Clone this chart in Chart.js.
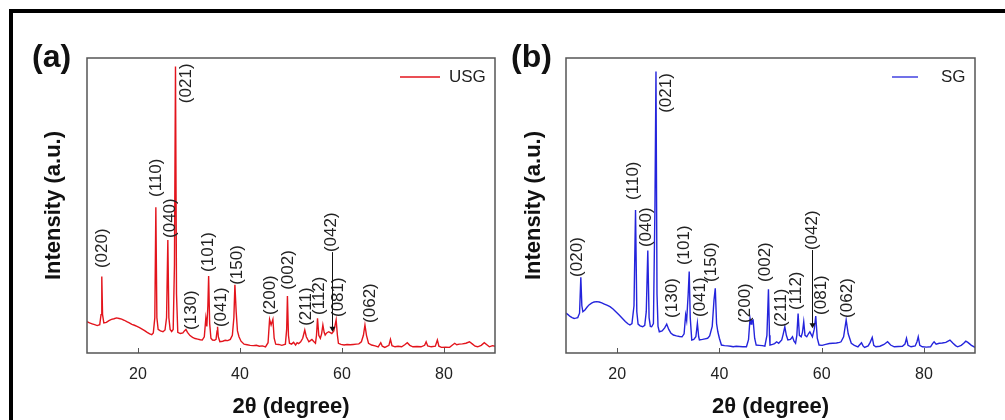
<!DOCTYPE html>
<html>
<head>
<meta charset="utf-8">
<script src="https://cdn.jsdelivr.net/npm/chart.js@4.4.1/dist/chart.umd.min.js"></script>
<style>
  html, body { margin: 0; padding: 0; background: #fff; }
  #wrap { position: relative; width: 1005px; height: 420px; overflow: hidden; }
  canvas { position: absolute; top: 0; }
  #chartA { left: 0; }
  #chartB { left: 502px; }
  #frame { position: absolute; left: 9px; top: 9px; width: 1100px; height: 500px;
           border-top: 4px solid #000; border-left: 4px solid #000; pointer-events: none; }
</style>
</head>
<body>
<div id="wrap">
  <canvas id="chartA" width="502" height="420"></canvas>
  <canvas id="chartB" width="503" height="420"></canvas>
  <div id="frame"></div>
</div>
<script>
// x axis ticks
const xTicks = [20, 40, 60, 80];

// (a) USG pattern, 2theta / intensity (a.u.)
const usgAngle = [10.0, 10.5, 11.0, 11.5, 12.0, 12.5, 12.75, 12.9, 13.05, 13.3, 13.8, 14.3, 14.8, 15.3, 15.8, 16.3, 16.8, 17.3, 17.8, 18.3,
  18.8, 19.3, 19.8, 20.3, 20.8, 21.3, 21.8, 22.3, 22.7, 23.0, 23.3, 23.5, 23.7, 23.95, 24.4, 24.9, 25.3, 25.6, 25.85, 26.05,
  26.3, 26.6, 26.9, 27.15, 27.35, 27.55, 27.8, 28.3, 28.8, 29.1, 29.4, 29.7, 30.2, 30.7, 31.2, 31.7, 32.2, 32.6, 33.0, 33.3,
  33.5, 33.7, 33.85, 34.05, 34.3, 34.6, 35.0, 35.3, 35.5, 35.6, 35.75, 36.05, 36.6, 37.1, 37.6, 38.1, 38.5, 38.8, 39.0, 39.25,
  39.5, 39.8, 40.2, 40.8, 41.4, 42.0, 42.6, 43.2, 43.8, 44.4, 45.0, 45.5, 45.8, 46.1, 46.45, 46.7, 47.0, 47.6, 48.2, 48.9,
  49.15, 49.3, 49.5, 49.7, 50.1, 50.5, 50.9, 51.2, 51.5, 51.9, 52.3, 52.7, 53.0, 53.5, 53.8, 54.1, 54.5, 54.8, 55.0, 55.2,
  55.45, 55.75, 56.0, 56.25, 56.5, 56.7, 57.0, 57.4, 57.7, 58.0, 58.4, 58.65, 58.85, 59.1, 59.3, 59.8, 60.4, 61.0, 61.6, 62.2,
  62.8, 63.3, 63.8, 64.2, 64.5, 64.8, 65.2, 65.8, 66.5, 67.1, 67.6, 67.9, 68.4, 69.2, 69.5, 69.8, 70.4, 71.0, 71.7, 72.3,
  72.8, 73.3, 73.9, 74.7, 75.5, 76.2, 76.5, 76.8, 77.5, 78.3, 78.7, 79.0, 79.5, 80.3, 81.1, 81.6, 82.1, 82.5, 83.0, 83.6,
  84.3, 85.0, 85.6, 86.1, 86.6, 87.3, 87.9, 88.4, 88.9, 89.5, 90.0];
const usgIntensity = [10.6, 10.2, 9.9, 9.6, 9.3, 9.6, 13.0, 25.9, 13.0, 10.2, 10.4, 11.0, 11.4, 11.6, 11.9, 11.7, 11.5, 11.1, 10.6, 10.2,
  9.7, 9.4, 9.0, 8.6, 8.1, 7.6, 7.0, 6.5, 6.2, 6.8, 12.0, 49.4, 12.0, 8.0, 7.5, 7.2, 7.8, 12.0, 38.3, 12.0,
  8.0, 7.3, 8.0, 30.0, 97.1, 20.0, 7.0, 6.6, 6.8, 7.5, 8.0, 7.0, 5.9, 5.3, 4.9, 4.7, 4.5, 4.4, 5.5, 11.8,
  9.0, 16.0, 26.1, 10.0, 5.0, 4.4, 4.3, 4.6, 7.5, 8.9, 5.5, 3.8, 4.0, 4.3, 4.2, 4.6, 6.0, 12.0, 23.1, 14.0,
  7.5, 5.5, 4.0, 3.0, 2.8, 2.6, 2.5, 2.6, 2.3, 2.4, 2.1, 3.5, 11.4, 9.5, 11.4, 5.0, 3.0, 2.9, 2.6, 3.0,
  8.0, 19.3, 6.0, 3.3, 3.0, 3.6, 2.7, 3.5, 3.2, 3.8, 5.0, 7.8, 5.5, 3.8, 4.2, 4.6, 3.8, 3.3, 6.0, 11.8,
  6.0, 5.0, 6.5, 9.5, 7.0, 6.1, 6.8, 7.2, 6.9, 6.6, 7.5, 9.5, 11.2, 6.0, 3.3, 2.9, 2.7, 2.9, 2.8, 2.9,
  3.0, 3.1, 3.8, 6.0, 9.5, 6.0, 3.3, 2.7, 2.4, 2.1, 3.5, 2.3, 1.9, 2.6, 4.6, 2.5, 2.1, 2.3, 2.1, 2.8,
  3.5, 2.6, 2.1, 2.2, 2.1, 2.6, 3.8, 2.4, 2.1, 2.3, 4.4, 2.3, 1.9, 2.0, 1.9, 2.6, 3.3, 2.8, 3.0, 3.1,
  3.3, 3.8, 3.0, 2.3, 2.1, 2.6, 3.5, 2.8, 2.1, 2.5, 2.3];

// (b) SG pattern
const sgAngle = [10.0, 10.4, 10.8, 11.2, 11.6, 11.9, 12.3, 12.65, 12.9, 13.1, 13.3, 13.7, 14.1, 14.5, 15.0, 15.5, 16.0, 16.5, 17.0, 17.5,
  18.0, 18.6, 19.2, 19.8, 20.4, 21.0, 21.6, 22.1, 22.5, 22.9, 23.3, 23.6, 23.85, 24.1, 24.5, 25.0, 25.4, 25.7, 26.0, 26.25,
  26.5, 26.75, 27.1, 27.4, 27.6, 27.8, 28.0, 28.25, 28.8, 29.3, 29.7, 30.1, 30.5, 31.0, 31.6, 32.2, 32.7, 33.1, 33.4, 33.6,
  33.9, 34.1, 34.3, 34.6, 35.0, 35.4, 35.7, 35.95, 36.1, 36.7, 37.2, 37.7, 38.1, 38.6, 38.95, 39.2, 39.45, 39.7, 40.0, 40.4,
  41.0, 41.6, 42.2, 42.7, 43.3, 43.9, 44.6, 45.3, 45.7, 46.0, 46.2, 46.35, 46.6, 46.9, 47.2, 47.8, 48.4, 48.9, 49.3, 49.6,
  49.8, 49.9, 50.4, 50.8, 51.2, 51.6, 52.2, 52.5, 52.8, 53.1, 53.4, 53.9, 54.3, 54.6, 54.9, 55.15, 55.4, 55.65, 56.0, 56.25,
  56.5, 56.75, 57.1, 57.45, 57.7, 57.95, 58.2, 58.55, 58.85, 59.15, 59.5, 60.1, 60.8, 61.5, 62.2, 62.9, 63.5, 63.8, 64.3, 64.8,
  65.2, 65.8, 66.4, 67.1, 67.8, 68.1, 68.4, 69.1, 69.5, 69.9, 70.2, 70.6, 71.4, 72.2, 72.9, 73.5, 74.2, 75.0, 75.8, 76.3,
  76.6, 76.9, 77.5, 78.3, 78.65, 78.9, 79.2, 79.7, 80.5, 81.3, 81.7, 82.0, 82.4, 83.0, 83.6, 84.3, 85.1, 85.7, 86.2, 86.6,
  87.3, 87.8, 88.2, 88.6, 89.3, 90.0];
const sgIntensity = [13.5, 13.0, 12.4, 12.0, 11.7, 11.8, 12.0, 13.5, 25.7, 16.0, 14.0, 14.6, 15.5, 16.3, 16.9, 17.3, 17.4, 17.3, 17.0, 16.6,
  16.2, 15.7, 14.9, 13.9, 12.9, 11.8, 10.7, 9.9, 9.5, 10.0, 16.0, 48.5, 14.0, 9.8, 9.2, 8.9, 9.4, 14.0, 34.7, 12.0,
  9.0, 8.9, 10.0, 50.0, 95.4, 20.0, 9.0, 7.2, 7.5, 8.5, 9.8, 8.0, 6.8, 6.1, 5.8, 5.6, 5.5, 6.5, 12.9, 11.0,
  20.0, 27.6, 12.0, 4.4, 4.6, 5.5, 10.1, 5.5, 4.4, 4.6, 4.8, 5.0, 5.8, 9.0, 18.0, 21.9, 10.0, 7.2, 5.0, 2.7,
  2.5, 2.4, 2.3, 2.1, 2.3, 2.2, 2.1, 2.1, 4.5, 11.8, 9.8, 11.0, 11.2, 5.0, 2.7, 2.6, 2.5, 2.3, 6.0, 21.6,
  6.0, 2.7, 2.9, 3.2, 3.8, 3.3, 4.4, 6.5, 8.9, 6.0, 4.4, 4.6, 5.5, 4.0, 3.3, 6.0, 13.4, 6.0, 5.5, 7.0,
  10.6, 6.0, 5.5, 6.6, 7.2, 6.3, 5.5, 8.0, 12.5, 5.0, 2.7, 2.6, 2.9, 3.2, 3.3, 3.4, 3.6, 3.8, 5.5, 11.2,
  6.5, 3.3, 2.6, 2.1, 3.5, 2.4, 1.9, 2.4, 3.6, 5.3, 2.6, 2.1, 2.3, 2.9, 3.8, 2.7, 2.1, 2.2, 2.3, 3.0,
  5.0, 2.6, 2.1, 2.4, 3.8, 5.5, 2.6, 2.1, 2.0, 2.1, 3.2, 3.8, 3.0, 3.3, 3.4, 3.6, 4.4, 3.3, 2.5, 2.1,
  2.6, 3.3, 4.0, 3.6, 2.6, 1.9];

// Miller index labels and where their text starts (2theta, intensity)
const hklLabels = ['(020)', '(110)', '(040)', '(021)', '(130)', '(101)', '(041)', '(150)',
  '(200)', '(002)', '(211)', '(112)', '(042)', '(081)', '(062)'];
const usgLabelAngle = [12.94, 23.67, 26.27, 29.55, 30.4, 33.8, 36.3, 39.5, 45.9, 49.5, 53.1, 55.5, 58.0, 59.3, 65.6];
const usgLabelBase = [28.8, 52.9, 39.0, 84.7, 7.8, 27.5, 8.8, 23.1, 12.9, 21.4, 9.2, 12.9, 34.2, 12.2, 10.2];
const sgLabelAngle = [12.2, 23.2, 25.8, 29.6, 30.7, 33.1, 36.2, 38.5, 45.0, 48.9, 52.2, 55.0, 58.1, 60.0, 65.0];
const sgLabelBase = [25.8, 51.9, 35.9, 81.4, 11.9, 29.8, 12.2, 24.1, 10.2, 24.1, 8.8, 14.6, 34.9, 12.9, 11.9];
// (042) leader arrow tip
const usgArrowTip = 7.2;
const sgArrowTip = 8.4;

const FONT = "'Liberation Sans', Arial, sans-serif";
Chart.defaults.font.family = FONT;

// frame, inner ticks, peak labels, legend, panel letter
const decor = {
  id: 'decor',
  afterDraw(chart, args, o) {
    const {ctx, chartArea: a, scales: {x, y}} = chart;
    ctx.save();
    ctx.strokeStyle = '#555';
    ctx.lineWidth = 1.5;
    ctx.strokeRect(a.left, a.top, a.right - a.left, a.bottom - a.top);

    ctx.lineWidth = 1;
    x.ticks.forEach(t => {
      const px = Math.round(x.getPixelForValue(t.value)) + 0.5;
      ctx.beginPath();
      ctx.moveTo(px, a.bottom);
      ctx.lineTo(px, a.bottom - 5);
      ctx.stroke();
    });

    ctx.fillStyle = '#222';
    ctx.font = '17px ' + FONT;
    ctx.textBaseline = 'middle';
    ctx.textAlign = 'left';
    hklLabels.forEach((s, i) => {
      const px = x.getPixelForValue(o.angles[i]);
      const py = y.getPixelForValue(o.bases[i]);
      ctx.save();
      ctx.translate(px, py);
      ctx.rotate(-Math.PI / 2);
      ctx.fillText(s, 0, 0);
      ctx.restore();
    });

    // leader line for (042)
    const k = hklLabels.indexOf('(042)');
    const ax = Math.round(x.getPixelForValue(o.angles[k])) + 0.5;
    const ay0 = y.getPixelForValue(o.bases[k]);
    const ay1 = y.getPixelForValue(o.arrowTip);
    ctx.strokeStyle = '#111';
    ctx.beginPath();
    ctx.moveTo(ax, ay0);
    ctx.lineTo(ax, ay1 - 4);
    ctx.stroke();
    ctx.fillStyle = '#111';
    ctx.beginPath();
    ctx.moveTo(ax - 3, ay1 - 5);
    ctx.lineTo(ax + 3, ay1 - 5);
    ctx.lineTo(ax, ay1);
    ctx.closePath();
    ctx.fill();

    // legend
    const ds = chart.data.datasets[0];
    const ly = a.top + 19;
    ctx.strokeStyle = ds.borderColor;
    ctx.lineWidth = 1.3;
    ctx.beginPath();
    ctx.moveTo(a.right - o.legend[0], ly);
    ctx.lineTo(a.right - o.legend[1], ly);
    ctx.stroke();
    ctx.fillStyle = '#222';
    ctx.fillText(ds.label, a.right - o.legend[2], ly);

    // panel letter
    ctx.font = 'bold 32px ' + FONT;
    ctx.fillStyle = '#111';
    ctx.textBaseline = 'alphabetic';
    ctx.fillText(o.panel, a.left - 55, 67);
    ctx.restore();
  }
};

function makeChart(id, label, color, angles, values, padLeft, yWidth, padRight, decorOpts) {
  const points = angles.map((v, i) => ({x: v, y: values[i]}));
  return new Chart(document.getElementById(id), {
    type: 'line',
    data: {
      datasets: [{
        label: label,
        data: points,
        borderColor: color,
        borderWidth: 1.4,
        pointRadius: 0,
        tension: 0,
        fill: false
      }]
    },
    options: {
      responsive: false,
      animation: false,
      devicePixelRatio: 1,
      layout: { padding: { left: padLeft, top: 58, right: padRight, bottom: 0 } },
      plugins: {
        legend: { display: false },
        tooltip: { enabled: false },
        decor: decorOpts
      },
      scales: {
        x: {
          type: 'linear',
          min: 10,
          max: 90,
          afterBuildTicks: s => { s.ticks = xTicks.map(v => ({value: v})); },
          afterFit: s => { s.height = 67; },
          grid: { display: false, drawTicks: false },
          border: { display: false },
          ticks: { color: '#222', font: { size: 16 }, padding: 12, maxRotation: 0, autoSkip: false },
          title: { display: true, text: '2θ (degree)', color: '#111', padding: 0,
                   font: { size: 22, weight: 'bold' } }
        },
        y: {
          min: 0,
          max: 100,
          afterFit: s => { s.width = yWidth; },
          grid: { display: false, drawTicks: false },
          border: { display: false },
          ticks: { display: false },
          title: { display: true, text: 'Intensity (a.u.)', color: '#111', padding: 0,
                   font: { size: 22, weight: 'bold' } }
        }
      }
    },
    plugins: [decor]
  });
}

makeChart('chartA', 'USG', '#e3141c', usgAngle, usgIntensity, 41, 46, 7, {
  panel: '(a)', angles: usgLabelAngle, bases: usgLabelBase, arrowTip: usgArrowTip, legend: [95, 55, 46]
});
makeChart('chartB', 'SG', '#2424dc', sgAngle, sgIntensity, 19, 45, 30, {
  panel: '(b)', angles: sgLabelAngle, bases: sgLabelBase, arrowTip: sgArrowTip, legend: [83, 57, 34]
});
</script>
</body>
</html>
